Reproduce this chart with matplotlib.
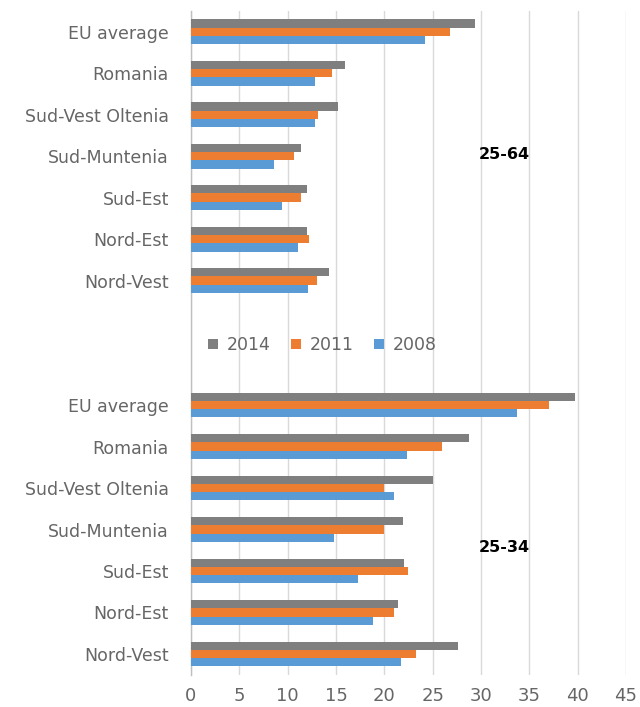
import matplotlib
matplotlib.use("Agg")
import matplotlib.pyplot as plt
import numpy as np

plt.rcParams['font.family'] = ['DejaVu Sans']

regions = ["EU average", "Romania", "Sud-Vest Oltenia", "Sud-Muntenia",
           "Sud-Est", "Nord-Est", "Nord-Vest"]
years = ["2014", "2011", "2008"]

# Age group 25-64
v25_64_2014 = [29.4, 15.9, 15.2, 11.4, 12.0, 12.0, 14.3]
v25_64_2011 = [26.8, 14.6, 13.1, 10.7, 11.4, 12.2, 13.0]
v25_64_2008 = [24.2, 12.8, 12.8, 8.6, 9.4, 11.1, 12.1]

# Age group 25-34
v25_34_2014 = [39.7, 28.8, 25.0, 21.9, 22.0, 21.4, 27.6]
v25_34_2011 = [37.0, 26.0, 20.0, 20.0, 22.4, 21.0, 23.3]
v25_34_2008 = [33.7, 22.3, 21.0, 14.8, 17.3, 18.8, 21.7]

colors = {"2014": "#7F7F7F", "2011": "#ED7D31", "2008": "#5B9BD5"}
xticks = [0, 5, 10, 15, 20, 25, 30, 35, 40, 45]

fig = plt.figure(figsize=(6.4, 7.07), dpi=100)
ax = fig.add_axes([191 / 640, 1 - 674.7 / 707, 435 / 640, 663.75 / 707])

n = len(regions)
top_pos = np.arange(n)            # 25-64 block
bot_pos = np.arange(n) + n + 2    # 25-34 block, two empty slots between
h = 0.2

groups = [
    (top_pos, {"2014": v25_64_2014, "2011": v25_64_2011, "2008": v25_64_2008}),
    (bot_pos, {"2014": v25_34_2014, "2011": v25_34_2011, "2008": v25_34_2008}),
]
for pos, data in groups:
    for k, yr in enumerate(years):
        ax.barh(pos + (k - 1) * h, data[yr], height=h, color=colors[yr],
                label=yr if pos is top_pos else None, zorder=3)

ax.set_ylim(2 * n + 2 - 0.5, -0.5)
ax.set_xlim(0, 45)
ax.set_xticks(xticks)
ax.set_xticklabels([str(t) for t in xticks])
ax.set_yticks(np.concatenate([top_pos, bot_pos]))
ax.set_yticklabels(regions + regions)

ax.grid(axis="x", color="#D9D9D9", linewidth=1, zorder=0)
for s in ["top", "right", "bottom"]:
    ax.spines[s].set_visible(False)
ax.spines["left"].set_color("#BFBFBF")
ax.spines["left"].set_linewidth(1)

ax.tick_params(axis="y", length=0, pad=16, labelsize=12.5, labelcolor="#666666")
ax.tick_params(axis="x", length=0, pad=9, labelsize=13, labelcolor="#666666")

ax.text(0.72, 2.97, "25-64", transform=ax.get_yaxis_transform(),
        fontsize=11.5, fontweight="bold", color="black", va="center", ha="center")
ax.text(0.72, 12.44, "25-34", transform=ax.get_yaxis_transform(),
        fontsize=11.5, fontweight="bold", color="black", va="center", ha="center")

leg = ax.legend(loc="center", bbox_to_anchor=(0.302, n + 0.55),
                bbox_transform=ax.get_yaxis_transform(), ncol=3, frameon=False,
                fontsize=12.5, handlelength=0.55, handleheight=0.55,
                handletextpad=0.5, columnspacing=1.2)
for t in leg.get_texts():
    t.set_color("#666666")

fig.savefig("out.png", dpi=100)
